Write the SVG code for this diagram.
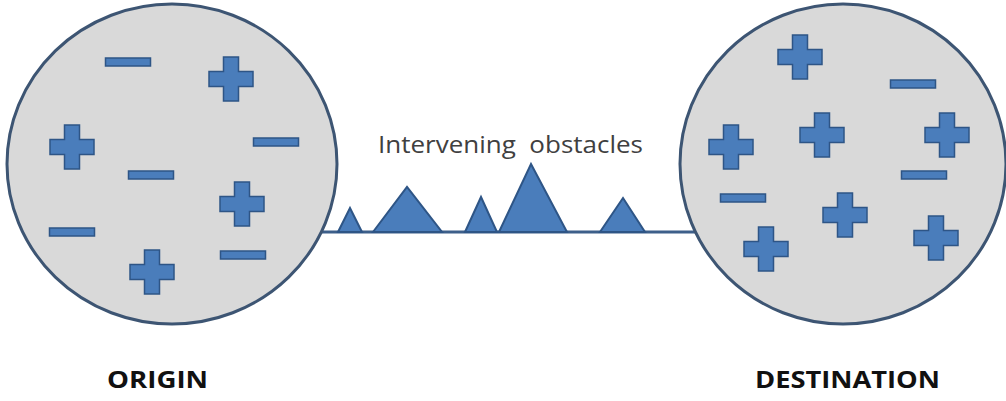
<svg xmlns="http://www.w3.org/2000/svg" xmlns:xlink="http://www.w3.org/1999/xlink" width="1006" height="401" viewBox="0 0 1006 401">
<style>
.ball{fill:#d9d9d9;stroke:#3d5573;stroke-width:3}
.sym{fill:#4a7dbb;stroke:#2e5586;stroke-width:1.5}
.obst{fill:#4a7dbb;stroke:#2e5586;stroke-width:2;stroke-linejoin:miter}
.road{stroke:#3d5f8a;stroke-width:3;fill:none}
.lbl{font-family:"Open Sans","Noto Sans",sans-serif;fill:#111}
.note{font-family:"Open Sans","Noto Sans",sans-serif;fill:#404040}
</style>
<defs>
<path id="plus" class="sym" d="M-7.5,-22 H7.5 V-7.5 H22 V7.5 H7.5 V22 H-7.5 V7.5 H-22 V-7.5 H-7.5 Z"/>
<rect id="minus" class="sym" x="-22.5" y="-4" width="45" height="8"/>
</defs>
<rect width="1006" height="401" fill="#ffffff"/>
<g id="connectors">
<line class="road" x1="316" y1="232" x2="704" y2="232"/>
</g>
<g id="obstacles">
<polygon class="obst" points="338,232 350,208 362,232"/>
<polygon class="obst" points="373,232 407,187 442,232"/>
<polygon class="obst" points="465,232 481,197 497,232"/>
<polygon class="obst" points="499,232 531,164 567,232"/>
<polygon class="obst" points="600,232 623,198 645,232"/>
<text class="note" x="378" y="153" font-size="23" textLength="265" lengthAdjust="spacingAndGlyphs" xml:space="preserve">Intervening  obstacles</text>
</g>
<g id="origin">
<ellipse class="ball" cx="172" cy="164" rx="165" ry="160"/>
<use xlink:href="#plus" x="231" y="79"/>
<use xlink:href="#plus" x="72" y="147"/>
<use xlink:href="#plus" x="242" y="204"/>
<use xlink:href="#plus" x="152" y="272"/>
<use xlink:href="#minus" x="128" y="62"/>
<use xlink:href="#minus" x="276" y="142"/>
<use xlink:href="#minus" x="151" y="175"/>
<use xlink:href="#minus" x="72" y="232"/>
<use xlink:href="#minus" x="243" y="255"/>
<text class="lbl" x="107" y="388" font-size="24" font-weight="bold" textLength="101" lengthAdjust="spacingAndGlyphs">ORIGIN</text>
</g>
<g id="destination">
<ellipse class="ball" cx="843" cy="164" rx="163" ry="160"/>
<use xlink:href="#plus" x="800" y="57"/>
<use xlink:href="#plus" x="731" y="147"/>
<use xlink:href="#plus" x="822" y="135"/>
<use xlink:href="#plus" x="947" y="135"/>
<use xlink:href="#plus" x="845" y="215"/>
<use xlink:href="#plus" x="766" y="249"/>
<use xlink:href="#plus" x="936" y="238"/>
<use xlink:href="#minus" x="913" y="84"/>
<use xlink:href="#minus" x="924" y="175"/>
<use xlink:href="#minus" x="743" y="198"/>
<text class="lbl" x="755" y="388" font-size="24" font-weight="bold" textLength="185" lengthAdjust="spacingAndGlyphs">DESTINATION</text>
</g>
</svg>
